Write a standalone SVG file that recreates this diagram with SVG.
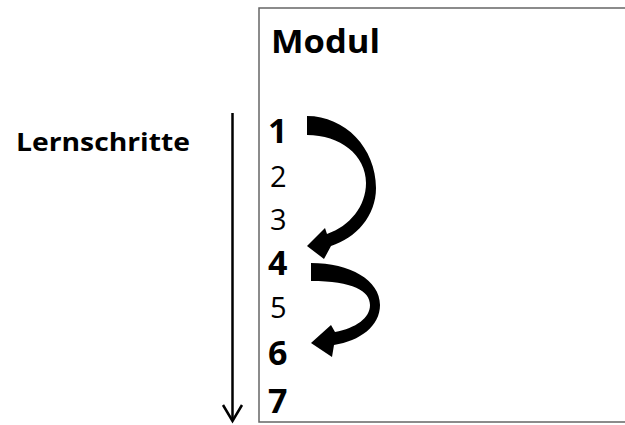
<svg xmlns="http://www.w3.org/2000/svg" width="625" height="425" viewBox="0 0 625 425">
  <style>
    text { font-family: "Open Sans", "Noto Sans", "DejaVu Sans", sans-serif; fill: #000; }
    .title { font-size: 32px; font-weight: bold; }
    .label { font-size: 25px; font-weight: bold; }
    .key { font-size: 34px; font-weight: bold; }
    .step { font-size: 29px; font-weight: normal; }
    .jump { fill: #000; stroke: none; }
    .axis { stroke: #000; stroke-width: 2.5; fill: none; }
  </style>

  <rect width="625" height="425" fill="#fff"/>

  <!-- module frame, open to the right -->
  <g id="module">
    <path d="M 630,8 L 259,8 L 259,422 L 630,422" fill="none" stroke="#666" stroke-width="1.5"/>
    <text class="title" x="271" y="53" textLength="109" lengthAdjust="spacingAndGlyphs">Modul</text>
  </g>

  <g id="axis-label">
    <text class="label" x="16" y="151" textLength="174" lengthAdjust="spacingAndGlyphs">Lernschritte</text>
  </g>

  <!-- learning steps -->
  <g id="step1"><text class="key" x="268" y="143">1</text></g>
  <g id="step2"><text class="step" x="270" y="187">2</text></g>
  <g id="step3"><text class="step" x="270" y="230">3</text></g>
  <g id="step4"><text class="key" x="268" y="275">4</text></g>
  <g id="step5"><text class="step" x="270" y="318">5</text></g>
  <g id="step6"><text class="key" x="268" y="365">6</text></g>
  <g id="step7"><text class="key" x="268" y="413">7</text></g>

  <g id="connectors">
    <!-- direction of the learning path -->
    <line class="axis" x1="232.5" y1="113" x2="232.5" y2="420"/>
    <polyline class="axis" points="223,405 232.5,421 242,405"/>
    <!-- jump 1 -> 4 -->
    <path class="jump" d="M 307,116 C 345,116 376,148 376,188 C 376,216 356,238 331,246 L 324,259 L 307,246 L 325,228 L 327,234 C 350,226 366,206 366,183 C 366,155 340,135 307,135 Z"/>
    <!-- jump 4 -> 6 -->
    <path class="jump" d="M 311,263 C 350,263 380,280 380,305 C 380,326 360,341 334,345 L 332,357 L 311,343 L 331,325 L 335,332 C 356,328 370,318 370,305 C 370,291 353,281 311,281 Z"/>
  </g>
</svg>
